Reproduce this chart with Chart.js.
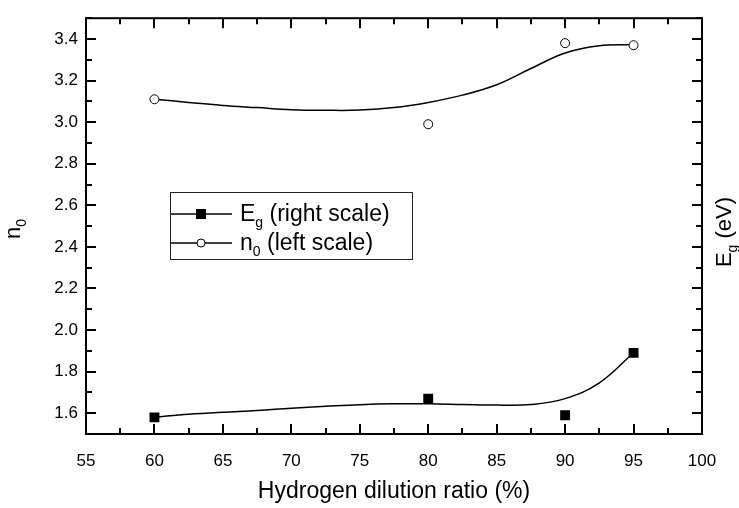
<!DOCTYPE html>
<html>
<head>
<meta charset="utf-8">
<script src="https://cdn.jsdelivr.net/npm/chart.js@4.4.1/dist/chart.umd.min.js"></script>
<style>
  body { margin: 0; background: #fff; }
  #wrap { width: 739px; height: 508px; }
</style>
</head>
<body>
<div id="wrap"><canvas id="grafico"></canvas></div>
<script>
// measured points
const ratios = [60, 80, 90, 95];
const n0Values = [3.11, 2.99, 3.38, 3.37];
const egValues = [1.58, 1.67, 1.59, 1.89];

// smooth fit curves
const curveX = [60, 62.5, 65, 67.5, 70, 72.5, 75, 77.5, 80, 82.5, 85, 87.5, 90, 92.5, 95];
const n0Curve = [3.11, 3.095, 3.08, 3.07, 3.06, 3.057, 3.058, 3.07, 3.095, 3.13, 3.18, 3.258, 3.333, 3.368, 3.373];
const egCurve = [1.581, 1.595, 1.605, 1.613, 1.624, 1.633, 1.641, 1.645, 1.645, 1.642, 1.639, 1.642, 1.67, 1.746, 1.891];

// tick labels
const xTicks = [55, 60, 65, 70, 75, 80, 85, 90, 95, 100];
const yTicks = [1.6, 1.8, 2.0, 2.2, 2.4, 2.6, 2.8, 3.0, 3.2, 3.4];

const FONT = '"Liberation Sans", Arial, sans-serif';

function pts(xs, ys) {
    return xs.map((x, i) => ({ x: x, y: ys[i] }));
}

// texto con subindice: [texto, sub, resto]
function drawSubText(ctx, x, y, main, sub, rest, size) {
    ctx.font = size + 'px ' + FONT;
    ctx.fillText(main, x, y);
    let w = ctx.measureText(main).width;
    ctx.font = Math.round(size * 0.62) + 'px ' + FONT;
    ctx.fillText(sub, x + w, y + size * 0.28);
    w += ctx.measureText(sub).width;
    ctx.font = size + 'px ' + FONT;
    ctx.fillText(rest, x + w, y);
    return w + ctx.measureText(rest).width;
}

function subTextWidth(ctx, main, sub, rest, size) {
    ctx.font = size + 'px ' + FONT;
    let w = ctx.measureText(main).width + ctx.measureText(rest).width;
    ctx.font = Math.round(size * 0.62) + 'px ' + FONT;
    return w + ctx.measureText(sub).width;
}

// marco, ticks hacia adentro, leyenda y titulos
const decorations = {
    id: 'decorations',
    afterDraw(chart) {
        const { ctx, chartArea: a, scales } = chart;
        const sx = scales.x, sy = scales.y;
        ctx.save();
        ctx.strokeStyle = '#000';
        ctx.fillStyle = '#000';
        ctx.lineWidth = 2;
        ctx.strokeRect(a.left, a.top, a.right - a.left, a.bottom - a.top);

        ctx.beginPath();
        for (let v = 55; v <= 100.01; v += 2.5) {
            const px = Math.round(sx.getPixelForValue(v));
            const len = (Math.abs(v % 5) < 0.01) ? 10 : 6;
            ctx.moveTo(px, a.bottom); ctx.lineTo(px, a.bottom - len);
            ctx.moveTo(px, a.top); ctx.lineTo(px, a.top + len);
        }
        for (let i = 15; i <= 35; i++) {
            const v = i / 10;
            const py = Math.round(sy.getPixelForValue(v));
            const len = (i % 2 === 0) ? 10 : 6;
            ctx.moveTo(a.left, py); ctx.lineTo(a.left + len, py);
            ctx.moveTo(a.right, py); ctx.lineTo(a.right - len, py);
        }
        ctx.stroke();

        // leyenda
        ctx.lineWidth = 1;
        ctx.strokeStyle = '#222';
        ctx.strokeRect(170.5, 192.5, 242, 67);
        const rows = [
            { y: 214, main: 'E', sub: 'g', rest: ' (right scale)', square: true },
            { y: 243, main: 'n', sub: '0', rest: ' (left scale)', square: false }
        ];
        ctx.textBaseline = 'alphabetic';
        ctx.textAlign = 'left';
        rows.forEach(r => {
            ctx.strokeStyle = '#000';
            ctx.lineWidth = 1.5;
            ctx.beginPath();
            ctx.moveTo(171, r.y); ctx.lineTo(232, r.y);
            ctx.stroke();
            if (r.square) {
                ctx.fillRect(196, r.y - 5, 10, 10);
            } else {
                ctx.beginPath();
                ctx.arc(201, r.y, 4, 0, Math.PI * 2);
                ctx.fillStyle = '#fff';
                ctx.fill();
                ctx.lineWidth = 1;
                ctx.stroke();
                ctx.fillStyle = '#000';
            }
            drawSubText(ctx, 240, r.y + 7, r.main, r.sub, r.rest, 23);
        });

        // titulos de ejes
        ctx.font = '23px ' + FONT;
        ctx.textAlign = 'center';
        ctx.fillText('Hydrogen dilution ratio (%)', (a.left + a.right) / 2, 498);

        ctx.textAlign = 'left';
        let w = subTextWidth(ctx, 'n', '0', '', 22);
        ctx.save();
        ctx.translate(20, 229 + w / 2);
        ctx.rotate(-Math.PI / 2);
        drawSubText(ctx, 0, 0, 'n', '0', '', 22);
        ctx.restore();

        w = subTextWidth(ctx, 'E', 'g', ' (eV)', 22);
        ctx.save();
        ctx.translate(731, 232 + w / 2);
        ctx.rotate(-Math.PI / 2);
        drawSubText(ctx, 0, 0, 'E', 'g', ' (eV)', 22);
        ctx.restore();

        ctx.restore();
    }
};

const ctx = document.getElementById('grafico').getContext('2d');
const chart = new Chart(ctx, {
    type: 'line',
    data: {
        datasets: [
            {
                label: 'Eg puntos',
                data: pts(ratios, egValues),
                showLine: false,
                pointStyle: 'rect',
                pointRadius: 7,
                pointBackgroundColor: '#000',
                pointBorderColor: '#000',
                pointBorderWidth: 0
            },
            {
                label: 'n0 puntos',
                data: pts(ratios, n0Values),
                showLine: false,
                pointStyle: 'circle',
                pointRadius: 4.5,
                pointBackgroundColor: '#fff',
                pointBorderColor: '#000',
                pointBorderWidth: 1
            },
            {
                label: 'Eg ajuste',
                data: pts(curveX, egCurve),
                borderColor: '#000',
                borderWidth: 1.5,
                pointRadius: 0,
                tension: 0.4
            },
            {
                label: 'n0 ajuste',
                data: pts(curveX, n0Curve),
                borderColor: '#000',
                borderWidth: 1.5,
                pointRadius: 0,
                tension: 0.4
            }
        ]
    },
    options: {
        responsive: true,
        maintainAspectRatio: false,
        animation: false,
        layout: { padding: { top: 7, left: 0, right: 0, bottom: 0 } },
        plugins: {
            legend: { display: false },
            tooltip: { enabled: false }
        },
        scales: {
            x: {
                type: 'linear',
                position: 'bottom',
                min: 55,
                max: 100,
                grid: { display: false, drawTicks: false },
                border: { display: false },
                afterBuildTicks: s => { s.ticks = xTicks.map(v => ({ value: v })); },
                afterFit: s => { s.height = 74; },
                ticks: {
                    padding: 17,
                    color: '#000',
                    maxRotation: 0,
                    font: { family: FONT, size: 17 },
                    callback: v => String(v)
                }
            },
            y: {
                type: 'linear',
                position: 'left',
                min: 1.5,
                max: 3.5,
                grid: { display: false, drawTicks: false },
                border: { display: false },
                afterBuildTicks: s => { s.ticks = yTicks.map(v => ({ value: v })); },
                afterFit: s => { s.width = 86; },
                ticks: {
                    padding: 8,
                    color: '#000',
                    font: { family: FONT, size: 17 },
                    callback: v => Number(v).toFixed(1)
                }
            },
            y2: {
                type: 'linear',
                position: 'right',
                min: 1.5,
                max: 3.5,
                grid: { display: false, drawTicks: false },
                border: { display: false },
                ticks: { display: false },
                afterFit: s => { s.width = 37; }
            }
        }
    },
    plugins: [decorations]
});
</script>
</body>
</html>
